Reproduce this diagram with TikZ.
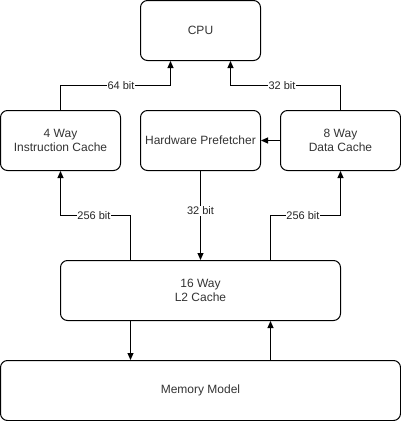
\documentclass[tikz,border=0pt]{standalone}
\usepackage{fontspec}
\setmainfont{Liberation Sans}
\usetikzlibrary{arrows.meta}
\begin{document}
\begin{tikzpicture}[x=1pt,y=-1pt,
  blk/.style={draw=black, line width=1pt, rounded corners=7pt, align=center,
    font=\fontsize{12}{14}\selectfont, text=black!80, inner sep=0pt},
  conn/.style={draw=black, line width=1pt, -{Triangle[length=7pt,width=6pt]}},
  lbl/.style={fill=white, inner sep=0.5pt, font=\fontsize{11}{13}\selectfont, text=black!85}]
\useasboundingbox (0,0) rectangle (401,421);
\node[blk, minimum width=120pt, minimum height=60pt] (cpu) at (200.5,30.5) {CPU};
\node[blk, minimum width=120pt, minimum height=60pt] (ic) at (60.5,140.5) {4 Way\\Instruction Cache};
\node[blk, minimum width=120pt, minimum height=60pt] (hp) at (200.5,140.5) {Hardware Prefetcher};
\node[blk, minimum width=120pt, minimum height=60pt] (dc) at (340.5,140.5) {8 Way\\Data Cache};
\node[blk, minimum width=280pt, minimum height=60pt] (l2) at (200.5,290.5) {16 Way\\L2 Cache};
\node[blk, minimum width=400pt, minimum height=60pt] (mem) at (200.5,390.5) {Memory Model};
% coordinates
\coordinate (a1) at (60.5,85.5);
\coordinate (a2) at (170.5,85.5);
\coordinate (b1) at (340.5,85.5);
\coordinate (b2) at (230.5,85.5);
\coordinate (c1) at (130.5,215.5);
\coordinate (c2) at (60.5,215.5);
\coordinate (d1) at (270.5,215.5);
\coordinate (d2) at (340.5,215.5);
\draw[conn] (ic.north) -- (a1) -- (a2) -- (a2 |- cpu.south);
\draw[conn] (dc.north) -- (b1) -- (b2) -- (b2 |- cpu.south);
\draw[conn] (dc.west) -- (hp.east);
\draw[conn] (hp.south) -- (hp.south |- l2.north);
\draw[conn] (c1 |- l2.north) -- (c1) -- (c2) -- (ic.south);
\draw[conn] (d1 |- l2.north) -- (d1) -- (d2) -- (dc.south);
\draw[conn] (c1 |- l2.south) -- (c1 |- mem.north);
\draw[conn] (d1 |- mem.north) -- (d1 |- l2.south);
\node[lbl] (l64) at (121,85.5) {64 bit};
\node[lbl] (l32a) at (282,85.5) {32 bit};
\node[lbl] (l32b) at (200.5,211) {32 bit};
\node[lbl] (l256a) at (94,215.5) {256 bit};
\node[lbl] (l256b) at (303,215.5) {256 bit};
\end{tikzpicture}
\end{document}
